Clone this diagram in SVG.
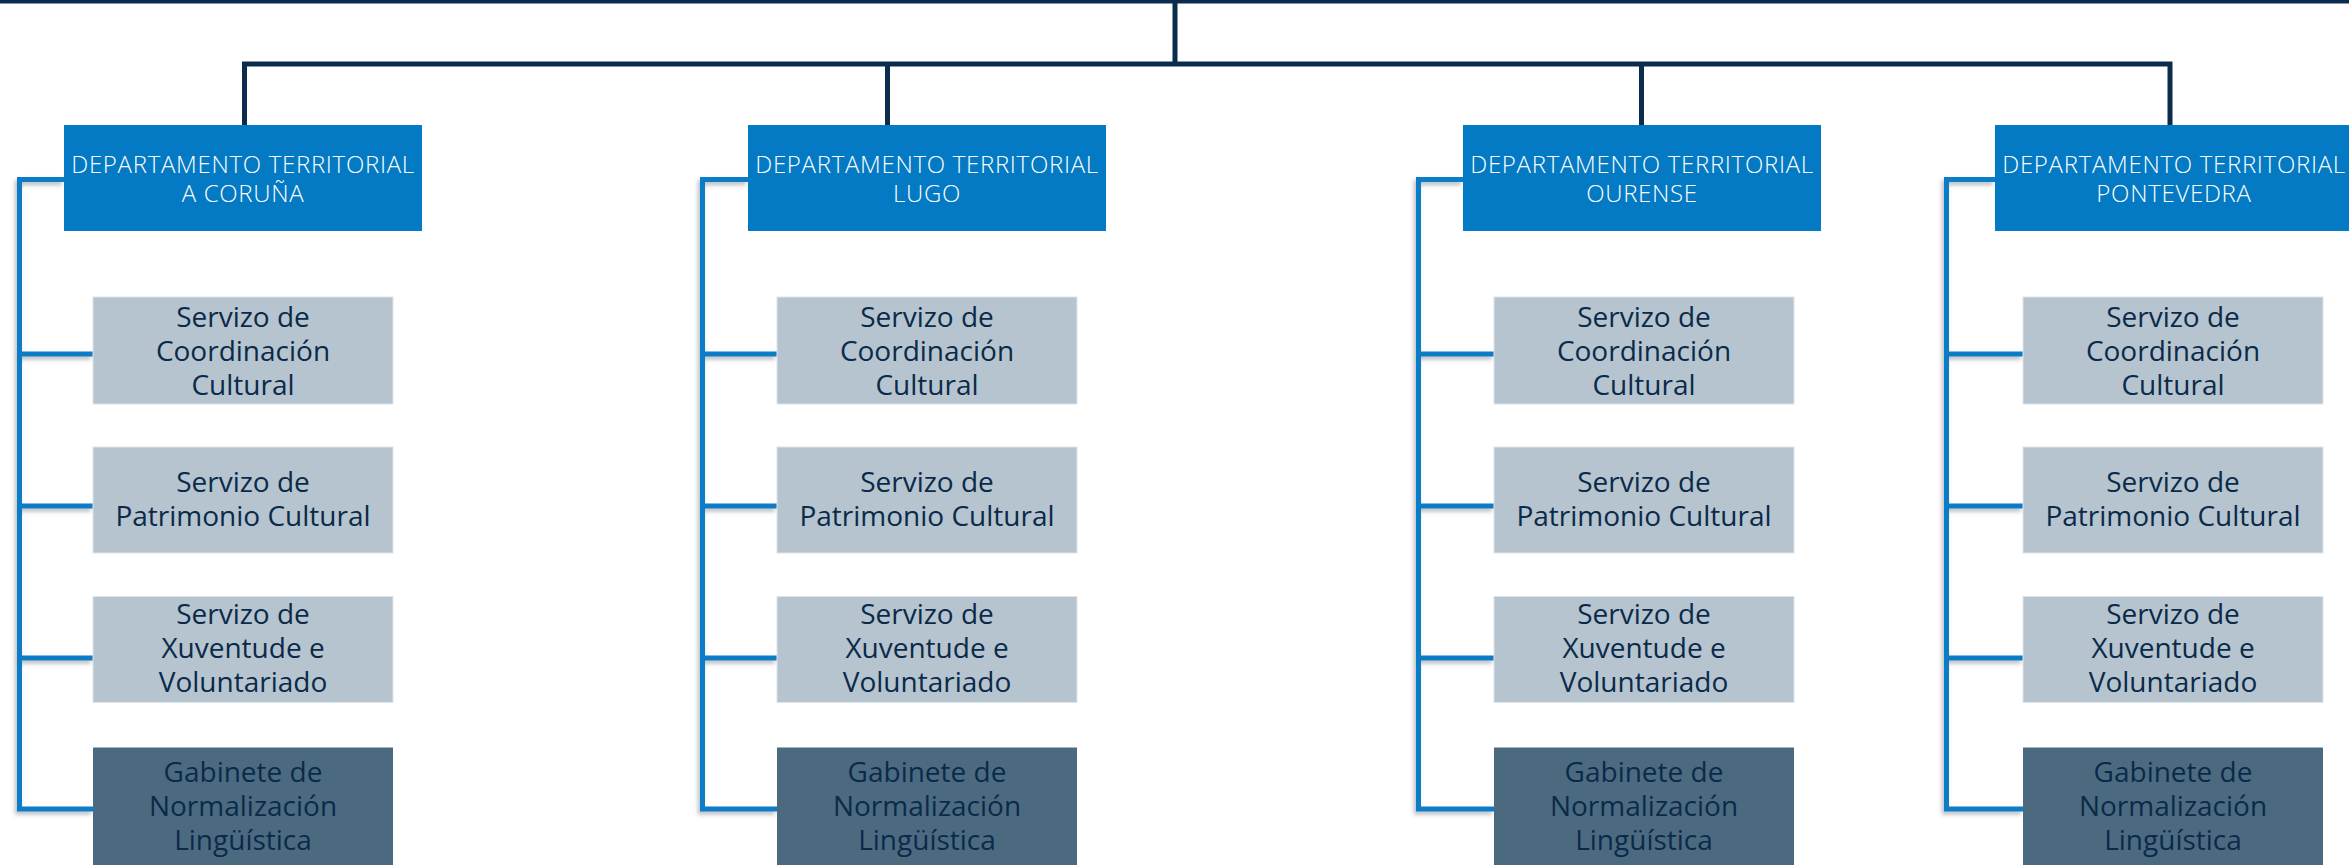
<svg xmlns="http://www.w3.org/2000/svg" width="2349" height="865" viewBox="0 0 2349 865">
<style>
.dark{fill:none;stroke:#0b2c4c;stroke-width:5}
.blue{fill:none;stroke:#0a7bc6;stroke-width:5}
.dept rect{fill:#037ac3}
.dept text{fill:#ffffff;font-family:"Open Sans","Noto Sans",sans-serif;font-size:24px;font-weight:300;letter-spacing:0.7px;text-anchor:middle}
.svc rect{fill:#b5c4ce;stroke:#dde4ea;stroke-width:1}
.gab rect{fill:#4b6a80}
.svc text,.gab text{fill:#0b2a49;font-family:"Open Sans","Noto Sans",sans-serif;font-size:28px;text-anchor:middle}
</style>
<defs>
<filter id="sh" x="-20%" y="-5%" width="140%" height="110%">
<feDropShadow dx="-2" dy="3" stdDeviation="2" flood-color="#6b7780" flood-opacity="0.5"/>
</filter>
</defs>
<rect width="2349" height="865" fill="#ffffff"/>
<g id="connectors">
<line class="dark" x1="0" y1="1" x2="2349" y2="1"/>
<line class="dark" x1="1175" y1="0" x2="1175" y2="64"/>
<path class="dark" d="M244.5,125 V64 H2170 V125"/>
<line class="dark" x1="887.5" y1="64" x2="887.5" y2="125"/>
<line class="dark" x1="1641.5" y1="64" x2="1641.5" y2="125"/>
<g filter="url(#sh)">
<path class="blue" d="M64,179.5 H19.5 V809 H93 M19.5,354 H93 M19.5,506 H93 M19.5,658 H93"/>
<path class="blue" d="M748,179.5 H702.5 V809 H777 M702.5,354 H777 M702.5,506 H777 M702.5,658 H777"/>
<path class="blue" d="M1463,179.5 H1418.5 V809 H1494 M1418.5,354 H1494 M1418.5,506 H1494 M1418.5,658 H1494"/>
<path class="blue" d="M1995,179.5 H1946.5 V809 H2023 M1946.5,354 H2023 M1946.5,506 H2023 M1946.5,658 H2023"/>
</g>
</g>
<g id="dept-coruna" class="dept"><rect x="64" y="125" width="358" height="106"/><text x="243" y="173">DEPARTAMENTO TERRITORIAL</text><text x="243" y="202">A CORUÑA</text></g>
<g id="dept-lugo" class="dept"><rect x="748" y="125" width="358" height="106"/><text x="927" y="173">DEPARTAMENTO TERRITORIAL</text><text x="927" y="202">LUGO</text></g>
<g id="dept-ourense" class="dept"><rect x="1463" y="125" width="358" height="106"/><text x="1642" y="173">DEPARTAMENTO TERRITORIAL</text><text x="1642" y="202">OURENSE</text></g>
<g id="dept-pontevedra" class="dept"><rect x="1995" y="125" width="358" height="106"/><text x="2174" y="173">DEPARTAMENTO TERRITORIAL</text><text x="2174" y="202">PONTEVEDRA</text></g>

<g id="coruna-coord" class="svc"><rect x="93" y="297" width="300" height="107"/><text x="243" y="327">Servizo de</text><text x="243" y="361">Coordinación</text><text x="243" y="395">Cultural</text></g>
<g id="coruna-patr" class="svc"><rect x="93" y="447" width="300" height="106"/><text x="243" y="492">Servizo de</text><text x="243" y="526">Patrimonio Cultural</text></g>
<g id="coruna-xuv" class="svc"><rect x="93" y="596.5" width="300" height="106"/><text x="243" y="624">Servizo de</text><text x="243" y="658">Xuventude e</text><text x="243" y="692">Voluntariado</text></g>
<g id="coruna-gab" class="gab"><rect x="93" y="747.5" width="300" height="120"/><text x="243" y="782">Gabinete de</text><text x="243" y="816">Normalización</text><text x="243" y="850">Lingüística</text></g>

<g id="lugo-coord" class="svc"><rect x="777" y="297" width="300" height="107"/><text x="927" y="327">Servizo de</text><text x="927" y="361">Coordinación</text><text x="927" y="395">Cultural</text></g>
<g id="lugo-patr" class="svc"><rect x="777" y="447" width="300" height="106"/><text x="927" y="492">Servizo de</text><text x="927" y="526">Patrimonio Cultural</text></g>
<g id="lugo-xuv" class="svc"><rect x="777" y="596.5" width="300" height="106"/><text x="927" y="624">Servizo de</text><text x="927" y="658">Xuventude e</text><text x="927" y="692">Voluntariado</text></g>
<g id="lugo-gab" class="gab"><rect x="777" y="747.5" width="300" height="120"/><text x="927" y="782">Gabinete de</text><text x="927" y="816">Normalización</text><text x="927" y="850">Lingüística</text></g>

<g id="ourense-coord" class="svc"><rect x="1494" y="297" width="300" height="107"/><text x="1644" y="327">Servizo de</text><text x="1644" y="361">Coordinación</text><text x="1644" y="395">Cultural</text></g>
<g id="ourense-patr" class="svc"><rect x="1494" y="447" width="300" height="106"/><text x="1644" y="492">Servizo de</text><text x="1644" y="526">Patrimonio Cultural</text></g>
<g id="ourense-xuv" class="svc"><rect x="1494" y="596.5" width="300" height="106"/><text x="1644" y="624">Servizo de</text><text x="1644" y="658">Xuventude e</text><text x="1644" y="692">Voluntariado</text></g>
<g id="ourense-gab" class="gab"><rect x="1494" y="747.5" width="300" height="120"/><text x="1644" y="782">Gabinete de</text><text x="1644" y="816">Normalización</text><text x="1644" y="850">Lingüística</text></g>

<g id="pontevedra-coord" class="svc"><rect x="2023" y="297" width="300" height="107"/><text x="2173" y="327">Servizo de</text><text x="2173" y="361">Coordinación</text><text x="2173" y="395">Cultural</text></g>
<g id="pontevedra-patr" class="svc"><rect x="2023" y="447" width="300" height="106"/><text x="2173" y="492">Servizo de</text><text x="2173" y="526">Patrimonio Cultural</text></g>
<g id="pontevedra-xuv" class="svc"><rect x="2023" y="596.5" width="300" height="106"/><text x="2173" y="624">Servizo de</text><text x="2173" y="658">Xuventude e</text><text x="2173" y="692">Voluntariado</text></g>
<g id="pontevedra-gab" class="gab"><rect x="2023" y="747.5" width="300" height="120"/><text x="2173" y="782">Gabinete de</text><text x="2173" y="816">Normalización</text><text x="2173" y="850">Lingüística</text></g>
</svg>
